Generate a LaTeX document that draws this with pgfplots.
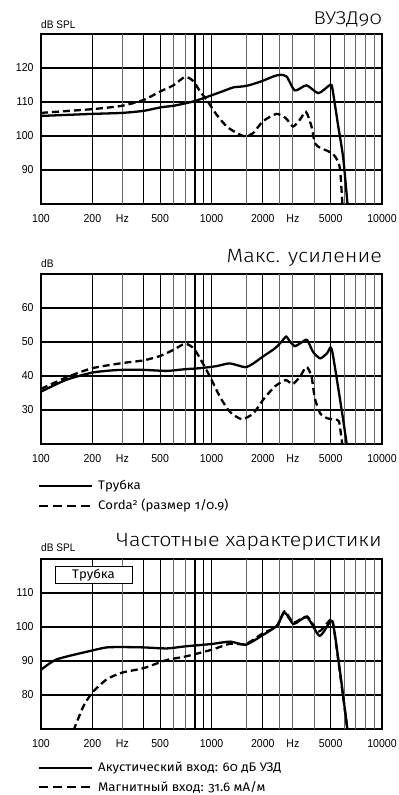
\documentclass[border=0pt]{standalone}
\usepackage{pgfplots}
\pgfplotsset{compat=1.18}
\usepackage{fontspec}
\setmainfont{Liberation Sans}
\newfontfamily\narrowfont[FakeStretch=0.92]{Liberation Sans}
\newfontfamily\titlefont[Numbers=OldStyle, FakeStretch=1.12]{Fira Sans Light}
\newfontfamily\legfont[Numbers=OldStyle, FakeStretch=1.06]{Fira Sans}
\pgfplotsset{
 every axis/.append style={
  scale only axis, width=341bp, height=170bp,
  xmin=100, xmax=10000,
  axis line style={line width=1.6bp},
  xtick={100,200,300,500,1000,2000,3000,5000,10000},
  xticklabels={100,200,Hz,500,1000,2000,Hz,5000,10000},
  major tick length=0pt, minor tick length=0pt,
  ymajorgrids=true, xmajorgrids=false,
  major grid style={black, line width=1.2bp},
  ticklabel style={font=\narrowfont\fontsize{11.5}{13}\selectfont},
  xticklabel style={yshift=-7bp},
  yticklabel style={xshift=-4bp},
  /pgf/number format/assume math mode=true,
 },
}
\tikzset{
 cur/.style={black, line width=2.3bp, smooth, tension=0.4, mark=none},
 dsh/.style={cur, dash pattern=on 7bp off 4bp},
}
\newcommand\gridlines[2]{%
 \pgfplotsinvokeforeach{300,600,700,1600,2500,3000,4000,6000,7000,8000,9000}{\draw[black!60,line width=0.9bp] (axis cs:##1,#1) -- (axis cs:##1,#2);}
 \pgfplotsinvokeforeach{200,400,500,800,900,1000,2000,5000}{\draw[black,line width=1.2bp] (axis cs:##1,#1) -- (axis cs:##1,#2);}
}
\begin{document}
\begin{tikzpicture}
\useasboundingbox (0,0) rectangle (399bp,795bp);
% ---------- plot 1
\begin{semilogxaxis}[at={(41bp,591bp)}, anchor=south west,
  ymin=80, ymax=130, ytick={90,100,110,120}]
\gridlines{80}{130}
\addplot[cur] coordinates {(100,105.9)(141,106.2)(200,106.5)(300,106.8)(400,107.4)(500,108.4)(600,108.9)(700,109.6)(800,110.3)(980,111.8)(1228,113.6)(1343,114.3)(1533,114.6)(1680,115.0)(1966,116.1)(2304,117.5)(2520,118.0)(2757,117.5)(3084,113.4)(3610,114.9)(4240,112.6)(4985,115.1)(5130,113.6)(5520,103.3)(5923,93.5)(6300,79)};
\addplot[dsh] coordinates {(100,106.8)(200,107.9)(300,108.9)(400,110.6)(500,113.1)(598,114.9)(700,117.4)(784,116.1)(856,113.1)(935,110.7)(1070,106.3)(1228,102.8)(1404,100.9)(1574,99.9)(1760,100.9)(2000,104.3)(2400,106.5)(2720,105.3)(3010,102.8)(3300,104.8)(3580,107.1)(3860,102.8)(4040,97.9)(4340,96.5)(4840,95.5)(5300,94.0)(5660,90.6)(5870,79)};
\end{semilogxaxis}
% ---------- plot 2
\begin{semilogxaxis}[at={(41bp,351bp)}, anchor=south west,
  ymin=20, ymax=70, ytick={30,40,50,60}]
\gridlines{20}{70}
\addplot[cur] coordinates {(100,35.4)(141,38.9)(200,41.0)(254,41.6)(300,41.8)(400,41.8)(547,41.5)(700,42.0)(856,42.3)(1070,42.9)(1280,43.7)(1574,42.6)(1760,43.7)(2000,45.7)(2350,48.1)(2575,50.1)(2740,51.6)(2890,50.1)(3084,48.8)(3380,49.9)(3640,50.6)(3940,47.1)(4340,45.2)(4760,46.7)(4985,48.4)(5130,46.7)(5520,36.9)(5923,27.0)(6250,19)};
\addplot[dsh] coordinates {(100,36.2)(141,39.6)(200,42.3)(300,43.8)(400,44.6)(500,45.9)(598,47.7)(700,49.5)(784,48.2)(856,45.2)(980,39.8)(1120,33.9)(1280,29.5)(1505,27.3)(1760,29.0)(2000,32.9)(2350,36.9)(2720,38.8)(2990,37.6)(3300,39.8)(3610,42.7)(3860,39.8)(4040,33.4)(4340,29.0)(4760,27.6)(5300,27.1)(5600,26.6)(5870,19)};
\end{semilogxaxis}
% ---------- plot 3
\begin{semilogxaxis}[at={(41bp,66bp)}, anchor=south west,
  ymin=70, ymax=120, ytick={80,90,100,110}]
\gridlines{70}{120}
\addplot[cur] coordinates {(100,87.4)(124,90.5)(200,93.1)(243,94.0)(300,94.1)(400,94.0)(547,93.7)(700,94.3)(1000,95.0)(1290,95.7)(1590,94.8)(2010,97.7)(2420,100.4)(2680,104.3)(3030,100.9)(3630,102.9)(4300,97.4)(4980,101.6)(5200,100.2)(5690,86.4)(6300,69)};
\addplot[dsh] coordinates {(155,69.5)(177,76.6)(200,80.7)(243,84.6)(300,86.6)(400,87.9)(547,90.3)(700,91.3)(1000,93.3)(1290,95.1)(1590,95.0)(2010,98.2)(2420,100.2)(2680,104.6)(3030,101.3)(3630,103.1)(4250,98.7)(4980,102.1)(5200,100.2)(6300,69)};
\end{semilogxaxis}
% ---------- titles and units
\node[anchor=base east, inner sep=0, font=\titlefont\fontsize{18.5}{20}\selectfont] at (382bp,770bp) {ВУЗД90};
\node[anchor=base east, inner sep=0, font=\titlefont\fontsize{19.3}{21}\selectfont] at (382bp,532bp) {Макс. усиление};
\node[anchor=base east, inner sep=0, font=\titlefont\fontsize{19.2}{21}\selectfont] at (382bp,248bp) {Частотные характеристики};
\node[anchor=base west, inner sep=0, font=\narrowfont\fontsize{11}{12}\selectfont] at (41bp,766bp) {dB SPL};
\node[anchor=base west, inner sep=0, font=\narrowfont\fontsize{11}{12}\selectfont] at (41bp,527bp) {dB};
\node[anchor=base west, inner sep=0, font=\narrowfont\fontsize{11}{12}\selectfont] at (41bp,243bp) {dB SPL};
% box in plot 3
\draw[line width=1bp, fill=white] (55bp,211bp) rectangle (132bp,228bp);
\node[inner sep=0, font=\legfont\fontsize{12.5}{14}\selectfont] at (93.5bp,219.5bp) {Трубка};
% legend 2
\draw[line width=2.3bp] (39bp,309bp) -- (92bp,309bp);
\draw[line width=2.3bp, dash pattern=on 9bp off 5bp] (39bp,289bp) -- (92bp,289bp);
\node[anchor=west, inner sep=0, font=\legfont\fontsize{12.5}{14}\selectfont] at (98bp,309bp) {Трубка};
\node[anchor=west, inner sep=0, font=\legfont\fontsize{12.5}{14}\selectfont] at (98bp,289bp) {Corda\textsuperscript{2} (размер 1/0.9)};
% legend 3
\draw[line width=2.3bp] (39bp,27bp) -- (92bp,27bp);
\draw[line width=2.3bp, dash pattern=on 9bp off 5bp] (39bp,8bp) -- (92bp,8bp);
\node[anchor=west, inner sep=0, font=\legfont\fontsize{12.5}{14}\selectfont] at (98bp,27bp) {Акустический вход: 60 дБ УЗД};
\node[anchor=west, inner sep=0, font=\legfont\fontsize{12.5}{14}\selectfont] at (98bp,8bp) {Магнитный вход: 31.6 мА/м};
\end{tikzpicture}
\end{document}
